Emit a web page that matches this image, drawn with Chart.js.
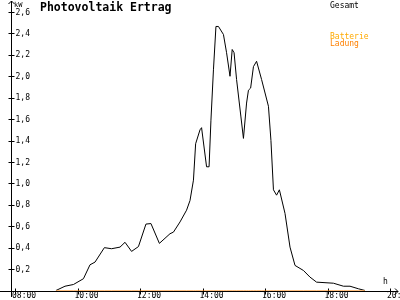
<!DOCTYPE html>
<html>
<head>
<meta charset="utf-8">
<script src="https://cdn.jsdelivr.net/npm/chart.js@4"></script>
<style>
  html, body { margin: 0; padding: 0; background: #fff; }
  canvas { display: block; }
</style>
</head>
<body>
<canvas id="myChart" width="400" height="300"></canvas>
<script>
// data (hour of day -> kW)
const hours = [9.31, 9.6, 9.87, 10.19, 10.4, 10.56, 10.86, 11.09, 11.36, 11.52, 11.73, 11.95,
  12.19, 12.35, 12.62, 12.96, 13.07, 13.28, 13.49, 13.6, 13.71, 13.78, 13.92, 13.97,
  14.13, 14.21, 14.27, 14.35, 14.43, 14.51, 14.67, 14.77, 14.88, 14.95, 15.01, 15.09,
  15.23, 15.31, 15.41, 15.47, 15.54, 15.63, 15.73, 15.89, 16.11, 16.19, 16.27, 16.37,
  16.46, 16.64, 16.8, 16.96, 17.23, 17.44, 17.65, 18.19, 18.51, 18.72, 18.99, 19.2];
const gesamt = [0.0, 0.04, 0.056, 0.11, 0.24, 0.265, 0.40, 0.39, 0.405, 0.45, 0.365, 0.41,
  0.62, 0.625, 0.44, 0.53, 0.545, 0.64, 0.75, 0.84, 1.03, 1.37, 1.50, 1.52,
  1.155, 1.155, 1.59, 2.06, 2.465, 2.465, 2.39, 2.22, 2.0, 2.25, 2.22, 1.97,
  1.62, 1.42, 1.75, 1.87, 1.89, 2.09, 2.14, 1.97, 1.72, 1.40, 0.94, 0.89,
  0.94, 0.72, 0.405, 0.234, 0.187, 0.125, 0.078, 0.068, 0.04, 0.04, 0.016, 0.0];
const ladung = [0, 0, 0, 0, 0, 0, 0, 0, 0, 0, 0, 0, 0, 0, 0, 0, 0, 0, 0, 0,
  0, 0, 0, 0, 0, 0, 0, 0, 0, 0, 0, 0, 0, 0, 0, 0, 0, 0, 0, 0,
  0, 0, 0, 0, 0, 0, 0, 0, 0, 0, 0, 0, 0, 0, 0, 0, 0, 0, 0, 0];

const xTicks = [8, 10, 12, 14, 16, 18, 20];
const xLabels = ['08:00', '10:00', '12:00', '14:00', '16:00', '18:00', '20:00'];
const yTicks = [0.2, 0.4, 0.6, 0.8, 1.0, 1.2, 1.4, 1.6, 1.8, 2.0, 2.2, 2.4, 2.6];
const yLabels = ['0,2', '0,4', '0,6', '0,8', '1,0', '1,2', '1,4', '1,6', '1,8', '2,0', '2,2', '2,4', '2,6'];

const MONO = '"DejaVu Sans Mono", "Liberation Mono", monospace';

// draws the arrow axes, ticks, title and the side legend
const axesPlugin = {
  id: 'axes',
  beforeDatasetsDraw(chart) {
    const { ctx, scales: { x, y } } = chart;
    const ax = Math.round(x.getPixelForValue(8)) - 4 + 0.5; // y axis line
    const ay = Math.round(y.getPixelForValue(0)) + 0.5;     // x axis line
    ctx.save();
    ctx.strokeStyle = '#000';
    ctx.lineWidth = 1;
    ctx.beginPath();
    // y axis with arrow
    ctx.moveTo(ax, 297); ctx.lineTo(ax, 1);
    ctx.moveTo(ax - 3, 4); ctx.lineTo(ax, 1); ctx.lineTo(ax + 3, 4);
    // x axis with arrow
    ctx.moveTo(0, ay); ctx.lineTo(398, ay);
    ctx.moveTo(395, ay - 3); ctx.lineTo(398, ay); ctx.lineTo(395, ay + 3);
    // tick marks
    yTicks.forEach(v => {
      const py = Math.round(y.getPixelForValue(v)) + 0.5;
      ctx.moveTo(ax - 3, py); ctx.lineTo(ax + 3, py);
    });
    xTicks.forEach(v => {
      const px = Math.round(x.getPixelForValue(v)) + 0.5;
      ctx.moveTo(px, ay - 3); ctx.lineTo(px, ay + 3);
    });
    ctx.stroke();

    ctx.fillStyle = '#000';
    ctx.font = '8px ' + MONO;
    ctx.textAlign = 'left';
    ctx.textBaseline = 'middle';
    yTicks.forEach((v, i) => {
      ctx.fillText(yLabels[i], ax + 4, y.getPixelForValue(v) + 0.5);
    });
    ctx.textBaseline = 'top';
    xTicks.forEach((v, i) => {
      ctx.fillText(xLabels[i], x.getPixelForValue(v) - 3, 292);
    });
    ctx.textBaseline = 'alphabetic';
    ctx.fillText('h', 383, 284);
    ctx.font = '7px ' + MONO;
    ctx.fillText('kW', 14, 7);

    // title
    ctx.font = 'bold 11.5px ' + MONO;
    ctx.fillText('Photovoltaik Ertrag', 40, 11);

    // legend
    ctx.font = '8px ' + MONO;
    ctx.fillStyle = '#000';
    ctx.fillText('Gesamt', 330, 8);
    ctx.fillStyle = '#ffaa00';
    ctx.fillText('Batterie', 330, 39);
    ctx.fillStyle = '#ff8000';
    ctx.fillText('Ladung', 330, 46);
    ctx.restore();
  }
};

const chart = new Chart(document.getElementById('myChart').getContext('2d'), {
  type: 'line',
  data: {
    datasets: [{
      label: 'Gesamt',
      data: hours.map((h, i) => ({ x: h, y: gesamt[i] })),
      borderColor: '#000',
      borderWidth: 1,
      pointRadius: 0,
      tension: 0,
      order: 2
    }, {
      label: 'Batterie Ladung',
      data: hours.map((h, i) => ({ x: h, y: ladung[i] })),
      borderColor: '#ff8000',
      borderWidth: 1,
      pointRadius: 0,
      tension: 0,
      order: 1
    }]
  },
  options: {
    responsive: false,
    animation: false,
    devicePixelRatio: 1,
    layout: { padding: { left: 15, right: 10, top: 12, bottom: 9.5 } },
    scales: {
      x: { type: 'linear', min: 8, max: 20, display: false },
      y: { min: 0, max: 2.6, display: false }
    },
    plugins: {
      legend: { display: false },
      tooltip: { enabled: false }
    }
  },
  plugins: [axesPlugin]
});
</script>
</body>
</html>
